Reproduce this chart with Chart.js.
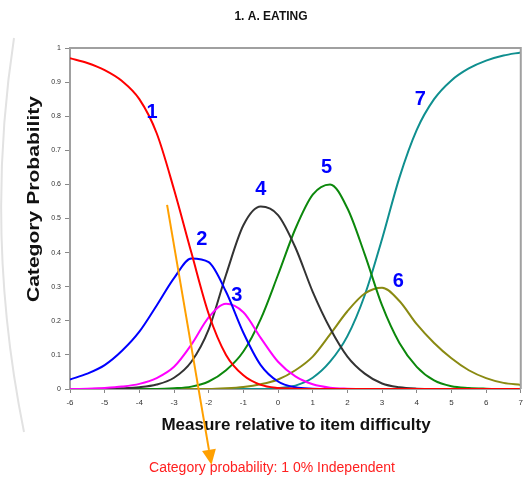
<!DOCTYPE html>
<html>
<head>
<meta charset="utf-8">
<script src="https://cdn.jsdelivr.net/npm/chart.js@4.4.0/dist/chart.umd.min.js"></script>
<style>
html,body{margin:0;padding:0;background:#fff;}
#wrap{width:528px;height:478px;}
</style>
</head>
<body>
<div id="wrap"><canvas id="c" width="528" height="478"></canvas></div>
<script>
const titleText = "1. A. EATING";
const xTitle = "Measure relative to item difficulty";
const yTitle = "Category Probability";
const noteText = "Category probability: 1 0% Independent";

const xs = [-6,-5.5,-5,-4.5,-4,-3.5,-3,-2.5,-2,-1.5,-1,-0.5,0,0.5,1,1.5,2,2.5,3,3.5,4,4.5,5,5.5,6,6.5,7];
const xTicks = [-6,-5,-4,-3,-2,-1,0,1,2,3,4,5,6,7];
const yTicks = [0,0.1,0.2,0.3,0.4,0.5,0.6,0.7,0.8,0.9,1];

const cat1 = [0.97,0.956,0.935,0.903,0.85,0.75,0.585,0.40,0.22,0.10,0.04,0.012,0.003,0.001,0,0,0,0,0,0,0,0,0,0,0,0,0];
const cat2 = [0.028,0.045,0.07,0.112,0.168,0.245,0.325,0.383,0.372,0.285,0.165,0.07,0.022,0.005,0.001,0,0,0,0,0,0,0,0,0,0,0,0];
const cat3 = [0,0.001,0.003,0.007,0.015,0.032,0.065,0.13,0.21,0.25,0.225,0.15,0.08,0.037,0.014,0.004,0.001,0,0,0,0,0,0,0,0,0,0];
const cat4 = [0,0,0.001,0.002,0.005,0.013,0.033,0.08,0.175,0.335,0.48,0.535,0.51,0.415,0.285,0.178,0.095,0.045,0.016,0.005,0.001,0,0,0,0,0,0];
const cat5 = [0,0,0,0,0,0,0.002,0.007,0.022,0.055,0.11,0.205,0.335,0.47,0.57,0.6,0.53,0.395,0.245,0.135,0.065,0.025,0.008,0.003,0.001,0,0];
const cat6 = [0,0,0,0,0,0,0,0,0,0.002,0.006,0.014,0.028,0.055,0.095,0.16,0.228,0.28,0.297,0.258,0.19,0.135,0.09,0.055,0.032,0.018,0.012];
const cat7 = [0,0,0,0,0,0,0,0,0,0,0,0,0.003,0.01,0.033,0.08,0.155,0.275,0.44,0.62,0.76,0.85,0.905,0.94,0.963,0.978,0.987];

const catLabels = ["1","2","3","4","5","6","7"];
const labelX = [-3.63,-2.2,-1.19,-0.5,1.4,3.47,4.1];
const labelY = [0.812,0.438,0.274,0.585,0.65,0.315,0.85];
const arrowFrom = [-3.2,0.54];
const arrowTo = [-1.92,-0.222];

const series = [cat1,cat2,cat3,cat4,cat5,cat6,cat7];
const colors = ['#ff0000','#0000ff','#ff00ff','#333333','#0c880c','#8a8a12','#0f8f8f'];

const FONT = "'Liberation Sans', Arial, sans-serif";

const datasets = series.map((s,i)=>({
  label: catLabels[i],
  data: xs.map((x,j)=>({x:x,y:s[j]})),
  borderColor: colors[i],
  backgroundColor: colors[i],
  borderWidth: 2,
  pointRadius: 0,
  cubicInterpolationMode: 'monotone',
  fill: false
}));

const deco = {
  id:'deco',
  beforeDraw(chart){
    const ctx = chart.ctx;
    ctx.save();
    ctx.strokeStyle = '#e2e2e2';
    ctx.lineWidth = 2;
    ctx.beginPath();
    ctx.moveTo(14,38);
    ctx.quadraticCurveTo(-16,235,24,432);
    ctx.stroke();
    ctx.restore();
  },
  afterDatasetsDraw(chart){
    const ctx = chart.ctx, a = chart.chartArea;
    const xs_ = chart.scales.x, ys_ = chart.scales.y;
    ctx.save();
    ctx.strokeStyle = '#a0a0a0';
    ctx.lineWidth = 2;
    ctx.beginPath();
    ctx.moveTo(a.left, a.top);
    ctx.lineTo(a.right, a.top);
    ctx.lineTo(a.right, a.bottom);
    ctx.stroke();
    ctx.fillStyle = '#0000ff';
    ctx.font = "bold 20px " + FONT;
    ctx.textAlign = 'center';
    ctx.textBaseline = 'middle';
    for (let i=0;i<catLabels.length;i++){
      ctx.fillText(catLabels[i], xs_.getPixelForValue(labelX[i]), ys_.getPixelForValue(labelY[i]));
    }
    ctx.fillStyle = '#111';
    ctx.font = "bold 12px " + FONT;
    ctx.fillText(titleText, 271, 17);
    ctx.font = "bold 17px " + FONT;
    ctx.fillText(xTitle, 296, 425);
    ctx.save();
    ctx.translate(34, 199);
    ctx.rotate(-Math.PI/2);
    ctx.scale(1.24, 1);
    ctx.font = "bold 17px " + FONT;
    ctx.fillText(yTitle, 0, 0);
    ctx.restore();
    ctx.fillStyle = '#ff2020';
    ctx.font = "14px " + FONT;
    ctx.fillText(noteText, 272, 468);
    const x1 = xs_.getPixelForValue(arrowFrom[0]), y1 = ys_.getPixelForValue(arrowFrom[1]);
    const x2 = xs_.getPixelForValue(arrowTo[0]), y2 = ys_.getPixelForValue(arrowTo[1]);
    const ang = Math.atan2(y2-y1, x2-x1);
    const hl = 15, hw = 7;
    const bx = x2 - hl*Math.cos(ang), by = y2 - hl*Math.sin(ang);
    ctx.strokeStyle = '#ffa000';
    ctx.fillStyle = '#ffa000';
    ctx.lineWidth = 2;
    ctx.beginPath();
    ctx.moveTo(x1,y1);
    ctx.lineTo(bx,by);
    ctx.stroke();
    ctx.beginPath();
    ctx.moveTo(x2,y2);
    ctx.lineTo(bx + hw*Math.sin(ang), by - hw*Math.cos(ang));
    ctx.lineTo(bx - hw*Math.sin(ang), by + hw*Math.cos(ang));
    ctx.closePath();
    ctx.fill();
    ctx.restore();
  }
};

new Chart(document.getElementById('c'), {
  type:'line',
  data:{datasets},
  options:{
    responsive:false,
    animation:false,
    devicePixelRatio: 1,
    layout:{padding:{top:48,right:5,left:0,bottom:0}},
    plugins:{legend:{display:false},tooltip:{enabled:false},title:{display:false}},
    scales:{
      x:{
        type:'linear', min:-6, max:7,
        afterBuildTicks(s){ s.ticks = xTicks.map(v=>({value:v})); },
        afterFit(s){ s.height = 89; },
        ticks:{font:{family:FONT,size:8},color:'#333',padding:5,maxRotation:0,
          callback:(v)=>String(v)},
        grid:{drawOnChartArea:false,tickLength:4,color:'#888',lineWidth:1},
        border:{color:'#a0a0a0',width:2}
      },
      y:{
        type:'linear', min:0, max:1,
        afterBuildTicks(s){ s.ticks = yTicks.map(v=>({value:v})); },
        afterFit(s){ s.width = 70; },
        ticks:{font:{family:FONT,size:7},color:'#333',padding:4,
          callback:(v)=>String(Math.round(v*10)/10)},
        grid:{drawOnChartArea:false,tickLength:5,color:'#888',lineWidth:1},
        border:{color:'#a0a0a0',width:2}
      }
    }
  },
  plugins:[deco]
});
</script>
</body>
</html>
